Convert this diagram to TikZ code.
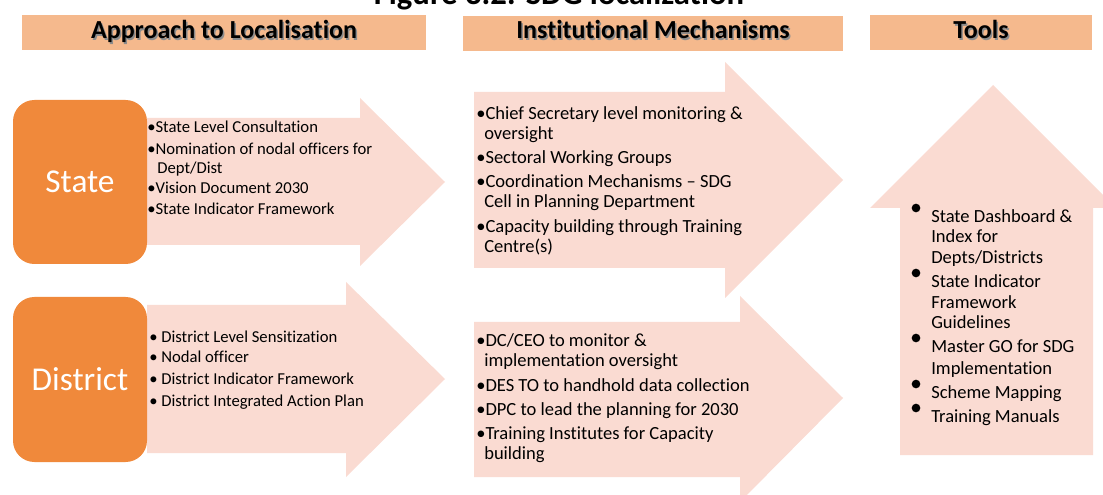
\documentclass[tikz,border=0pt]{standalone}
\usepackage{fontspec}
\setmainfont{Carlito}[RawFeature={-liga;-clig;-calt;-dlig}]
\newcommand\tii{t\kern0pt i}
\definecolor{hdrc}{HTML}{F5B98D}
\definecolor{orangec}{HTML}{F0893B}
\definecolor{pinkc}{HTML}{FADBD2}
\begin{document}
\begin{tikzpicture}[x=0.75pt,y=-0.75pt,
  hdrbox/.style={fill=hdrc, draw=none},
  hdrtxt/.style={anchor=base, inner sep=0pt, font=\bfseries\fontsize{19.5}{22}\selectfont},
  hdrshadow/.style={hdrtxt, text=black!45},
  lvlbox/.style={fill=orangec, draw=none, rounded corners=16pt},
  lvltxt/.style={inner sep=0pt, text=white, font=\fontsize{25}{28}\selectfont},
  arr/.style={fill=pinkc, draw=none},
  lsmall/.style={anchor=base west, inner sep=0pt, font=\fontsize{12.5}{15}\selectfont},
  lmid/.style={anchor=base west, inner sep=0pt, font=\fontsize{13.9}{16}\selectfont},
  ltool/.style={anchor=base west, inner sep=0pt, font=\fontsize{13.9}{16}\selectfont},
  tbul/.style={circle, fill=black, inner sep=0pt, minimum size=6.5pt}
]
\useasboundingbox (0,0) rectangle (1103,495);
\clip (0,0) rectangle (1103,495);

% title (cut off at top)
\node[anchor=base, inner sep=0pt, font=\bfseries\fontsize{24.5}{28}\selectfont] (title) at (559,5) {Figure 3.2: SDG localiza\tii on};

% headers
\path[hdrbox] (22,15) rectangle (426,50);
\path[hdrbox] (463,16) rectangle (843,51);
\path[hdrbox] (870,15) rectangle (1092,50);
\node[hdrshadow] (h1s) at (225.5,40.5) {Approach to Localisa\tii on};
\node[hdrtxt] (h1) at (224,39) {Approach to Localisa\tii on};
\node[hdrshadow] (h2s) at (654.5,40.5) {Ins\tii tu\tii onal Mechanisms};
\node[hdrtxt] (h2) at (653,39) {Ins\tii tu\tii onal Mechanisms};
\node[hdrshadow] (h3s) at (982.5,40.5) {Tools};
\node[hdrtxt] (h3) at (981,39) {Tools};

% arrows
\fill[arr] (147,118) -- (360,118) -- (360,98) -- (445,182) -- (360,266) -- (360,245) -- (147,245) -- cycle;
\fill[arr] (147,305) -- (346,305) -- (346,282) -- (445,379) -- (346,477) -- (346,453) -- (147,453) -- cycle;
\fill[arr] (474,92) -- (725,92) -- (725,62) -- (843,180) -- (725,298) -- (725,268) -- (474,268) -- cycle;
\fill[arr] (474,322) -- (740,322) -- (740,296) -- (843,398) -- (740,502) -- (740,477) -- (474,477) -- cycle;
\fill[arr] (900,455) -- (900,208) -- (870,208) -- (993,85) -- (1116,208) -- (1093,208) -- (1093,455) -- cycle;

% level boxes
\path[lvlbox] (13,100) rectangle (147,264);
\node[lvltxt] (state) at (80,182) {State};
\path[lvlbox] (13,297) rectangle (147,462);
\node[lvltxt] (district) at (80,379) {District};

% state list
\node[lsmall] (s1) at (147,133) {•State Level Consulta\tii on};
\node[lsmall] (s2) at (147,155) {•Nomina\tii on of nodal officers for};
\node[lsmall] (s2b) at (157,174) {Dept/Dist};
\node[lsmall] (s3) at (147,194) {•Vision Document 2030};
\node[lsmall] (s4) at (147,215) {•State Indicator Framework};

% district list
\node[lsmall] (d1) at (149,342) {• District Level Sensi\tii za\tii on};
\node[lsmall] (d2) at (149,363) {• Nodal officer};
\node[lsmall] (d3) at (149,384) {• District Indicator Framework};
\node[lsmall] (d4) at (149,406) {• District Integrated Ac\tii on Plan};

% institutional 1
\node[lmid] (i1) at (476,120) {•Chief Secretary level monitoring \&};
\node[lmid] (i1b) at (484,140) {oversight};
\node[lmid] (i2) at (476,164) {•Sectoral Working Groups};
\node[lmid] (i3) at (476,188) {•Coordina\tii on Mechanisms – SDG};
\node[lmid] (i3b) at (484,208) {Cell in Planning Department};
\node[lmid] (i4) at (476,233) {•Capacity building through Training};
\node[lmid] (i4b) at (484,253) {Centre(s)};

% institutional 2
\node[lmid] (j1) at (476,346) {•DC/CEO to monitor \&};
\node[lmid] (j1b) at (484,366) {implementa\tii on oversight};
\node[lmid] (j2) at (476,391) {•DES TO to handhold data collec\tii on};
\node[lmid] (j3) at (476,415) {•DPC to lead the planning for 2030};
\node[lmid] (j4) at (476,439) {•Training Ins\tii tutes for Capacity};
\node[lmid] (j4b) at (484,459) {building};

% tools
\node[tbul] (b1) at (916,208) {};
\node[tbul] (b2) at (916,273) {};
\node[tbul] (b3) at (916,338) {};
\node[tbul] (b4) at (916,384) {};
\node[tbul] (b5) at (916,408) {};
\node[ltool] (t1) at (931,223) {State Dashboard \&};
\node[ltool] (t1b) at (931,243) {Index for};
\node[ltool] (t1c) at (931,264) {Depts/Districts};
\node[ltool] (t2) at (931,288) {State Indicator};
\node[ltool] (t2b) at (931,309) {Framework};
\node[ltool] (t2c) at (931,329) {Guidelines};
\node[ltool] (t3) at (931,353) {Master GO for SDG};
\node[ltool] (t3b) at (931,374) {Implementa\tii on};
\node[ltool] (t4) at (931,398) {Scheme Mapping};
\node[ltool] (t5) at (931,422) {Training Manuals};
\end{tikzpicture}
\end{document}
